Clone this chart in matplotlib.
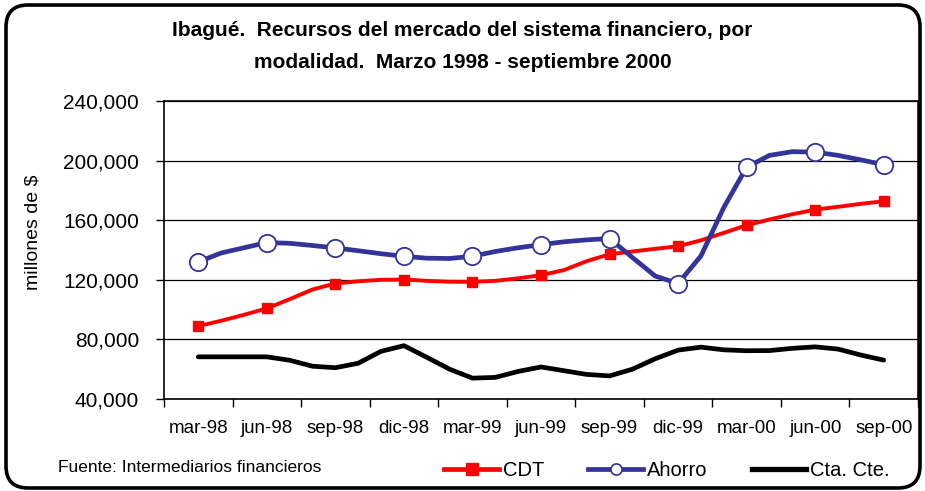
import numpy as np
import matplotlib.pyplot as plt
from matplotlib.lines import Line2D
from matplotlib.patches import FancyBboxPatch

plt.rcParams['font.family'] = ['Liberation Sans', 'DejaVu Sans']

# quarterly labels, monthly data (mar-98 .. sep-00)
labels = ['mar-98', 'jun-98', 'sep-98', 'dic-98', 'mar-99', 'jun-99',
          'sep-99', 'dic-99', 'mar-00', 'jun-00', 'sep-00']

cdt = [88900, 92500, 96500, 100800, 107000, 113500, 117500, 119000, 120000, 120200,
       119300, 118700, 118600, 119300, 121000, 123100, 126500, 132500, 137150, 139000,
       140800, 142500, 146500, 151500, 156600, 160500, 164000, 167100, 169000, 171000,
       172700]
ahorro = [132000, 138000, 141500, 145000, 144500, 143000, 141400, 139500, 137500, 135800,
          134500, 134300, 135800, 139000, 141500, 143600, 145500, 146800, 147700, 135000,
          122500, 117500, 136000, 168500, 195600, 203500, 206000, 205700, 203500, 200500,
          197200]
cta_cte = [68300, 68300, 68300, 68300, 66000, 62000, 61000, 64000, 72000, 75800,
           68000, 60000, 54000, 54500, 58500, 61500, 59000, 56500, 55500, 60000,
           67000, 72800, 74800, 73000, 72400, 72500, 74000, 75000, 73500, 69500,
           66100]

months = np.arange(len(cdt))
red, blue = '#ff0000', '#333399'

fig = plt.figure(figsize=(9.25, 4.91), dpi=100)

# background axes in pixel units for the rounded frame
bg = fig.add_axes([0, 0, 1, 1])
bg.set_xlim(0, 925)
bg.set_ylim(491, 0)
bg.axis('off')
bg.add_patch(FancyBboxPatch((6, 5), 914, 483, boxstyle='round,pad=0,rounding_size=22',
                            fill=False, lw=2.6, edgecolor='black'))

ax = fig.add_axes([164/925, 1-399/491, 754/925, 298/491])

ax.plot(months, cta_cte, color='black', lw=3.4, solid_capstyle='round', zorder=2)
ax.plot(months, cdt, color=red, lw=2.8, marker='s', markersize=7.5, markevery=3, zorder=3)
ax.plot(months, ahorro, color=blue, lw=3.4, marker='o', markersize=12.5, markevery=3,
        markerfacecolor='white', markeredgecolor=blue, markeredgewidth=1.3, zorder=4)

ax.set_ylim(40000, 240000)
ax.set_yticks(np.arange(40000, 240001, 40000))
ax.set_yticklabels([f'{v:,}' for v in range(40000, 240001, 40000)], fontsize=15)
ax.yaxis.grid(True, color='black', lw=0.9)
ax.set_axisbelow(True)

ax.set_xlim(-1.5, len(cdt) + 0.5)
ax.set_xticks(np.arange(-1.5, len(cdt) + 1, 3))
ax.set_xticklabels([])
ax.set_xticks(np.arange(0, len(cdt), 3), minor=True)
ax.set_xticklabels(labels, minor=True, fontsize=13.5)
ax.tick_params(axis='x', which='minor', length=0, pad=15)
ax.tick_params(axis='both', which='major', length=6, width=1, direction='out')
ax.tick_params(axis='y', pad=12)
for s in ax.spines.values():
    s.set_linewidth(1.2)

ax.set_ylabel('millones de $', fontsize=14)
ax.yaxis.set_label_coords(-0.162, 0.56)

fig.text(0.5, 1 - 31/491, 'Ibagué.  Recursos del mercado del sistema financiero, por',
         ha='center', va='center', fontsize=15, fontweight='bold')
fig.text(0.5, 1 - 62/491, 'modalidad.  Marzo 1998 - septiembre 2000',
         ha='center', va='center', fontsize=15, fontweight='bold')

fig.text(58/925, 1 - 468/491, 'Fuente: Intermediarios financieros', ha='left', va='center',
         fontsize=12.5)

handles = [
    Line2D([], [], color=red, lw=3.4, marker='s', markersize=8),
    Line2D([], [], color=blue, lw=3.4, marker='o', markersize=8, markerfacecolor='white',
           markeredgecolor=blue, markeredgewidth=1.2),
    Line2D([], [], color='black', lw=3.8),
]
fig.legend(handles, ['CDT', 'Ahorro', 'Cta. Cte.'], loc='center',
           bbox_to_anchor=(667/925, 1 - 471/491), ncol=3, frameon=False,
           fontsize=14.5, handlelength=2.7, handletextpad=0.2, columnspacing=2.2,
           numpoints=1)

fig.savefig('out.png', dpi=100)
